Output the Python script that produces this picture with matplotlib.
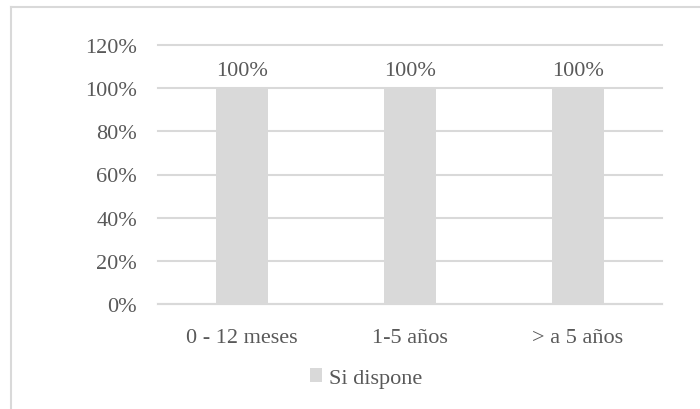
import matplotlib
matplotlib.use("Agg")
import matplotlib.pyplot as plt
from matplotlib.lines import Line2D
from matplotlib.ticker import PercentFormatter

categories = ["0 - 12 meses", "1-5 años", "> a 5 años"]
si_dispone = [1.00, 1.00, 1.00]
y_ticks = [0, 0.2, 0.4, 0.6, 0.8, 1.0, 1.2]

TEXT = "#595959"
GRID = "#d9d9d9"
BAR = "#d9d9d9"
FS = 16

plt.rcParams["font.family"] = ["Liberation Serif", "DejaVu Serif"]

fig = plt.figure(figsize=(7, 4.1), dpi=100)
ax = fig.add_axes([158 / 700, 1 - 305 / 410, 504 / 700, 259 / 410])

x = range(len(categories))
bars = ax.bar(x, si_dispone, width=0.31, color=BAR, zorder=2, label="Si dispone")
for b, v in zip(bars, si_dispone):
    ax.annotate(f"{v:.0%}", (b.get_x() + b.get_width() / 2, v),
                xytext=(0, 6), textcoords="offset points",
                ha="center", va="bottom", fontsize=FS, color=TEXT)

ax.set_xlim(-0.5, len(categories) - 0.5)
ax.set_ylim(0, 1.2)
ax.set_yticks(y_ticks)
ax.yaxis.set_major_formatter(PercentFormatter(1.0, decimals=0))
ax.set_xticks(list(x))
ax.set_xticklabels(categories)
ax.grid(axis="y", color=GRID, lw=1.5, zorder=0)
for gl in ax.get_ygridlines():
    gl.set_clip_on(False)  # keep the 120% line at full width
ax.tick_params(axis="both", length=0, labelsize=FS, labelcolor=TEXT)
ax.tick_params(axis="y", pad=15)
ax.tick_params(axis="x", pad=17)
for s in ("top", "right", "left"):
    ax.spines[s].set_visible(False)
ax.spines["bottom"].set_color(GRID)
ax.spines["bottom"].set_linewidth(1.5)

fig.legend(loc="center", bbox_to_anchor=(366 / 700, 1 - 379 / 410),
           frameon=False, fontsize=FS, labelcolor=TEXT,
           handlelength=0.55, handleheight=0.55, handletextpad=0.3)

# chart frame (only top and left edges fall inside the canvas)
fig.add_artist(Line2D([11 / 700, 11 / 700], [0, 1 - 8 / 410],
                      transform=fig.transFigure, color=GRID, lw=1.5))
fig.add_artist(Line2D([11 / 700, 1], [1 - 8 / 410, 1 - 8 / 410],
                      transform=fig.transFigure, color=GRID, lw=1.5))

fig.savefig("out.png", dpi=100)
